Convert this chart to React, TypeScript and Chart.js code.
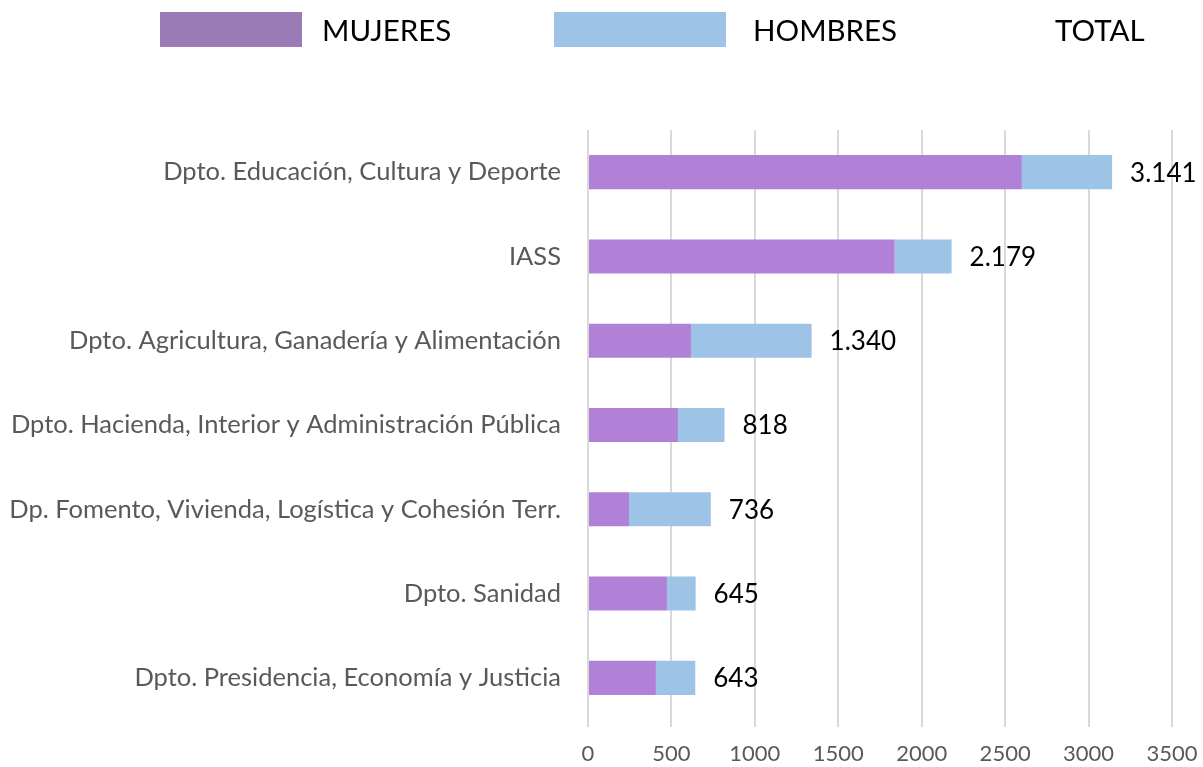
import React, { useEffect, useRef } from "react";
import { Chart, registerables } from "chart.js";

Chart.register(...registerables);

const categories = [
  "Dpto. Educación, Cultura y Deporte",
  "IASS",
  "Dpto. Agricultura, Ganadería y Alimentación",
  "Dpto. Hacienda, Interior y Administración Pública",
  "Dp. Fomento, Vivienda, Logística y Cohesión Terr.",
  "Dpto. Sanidad",
  "Dpto. Presidencia, Economía y Justicia",
];
const mujeres = [2600, 1838, 617, 539, 246, 473, 407];
const hombres = [541, 341, 723, 279, 490, 172, 236];
const totals = [3141, 2179, 1340, 818, 736, 645, 643];
const seriesLabels = ["MUJERES", "HOMBRES", "TOTAL"];
const xMin = 0;
const xMax = 3500;
const xStep = 500;

const FONT = "Lato, 'Open Sans', sans-serif";
const COLOR_MUJERES = "#b180d7";
const COLOR_HOMBRES = "#9dc3e6";
const LEGEND_MUJERES = "#9b7bb6";

const fmt = (v: number) => String(v).replace(/\B(?=(\d{3})+(?!\d))/g, ".");

const legendPlugin = {
  id: "customLegend",
  afterDraw(chart: any) {
    const ctx = chart.ctx;
    const items = [
      { box: [160, 142], color: LEGEND_MUJERES, textX: 322 },
      { box: [554, 172], color: COLOR_HOMBRES, textX: 753 },
      { box: null, color: null, textX: 1055 },
    ];
    ctx.save();
    ctx.font = `29.5px ${FONT}`;
    ctx.textBaseline = "middle";
    ctx.textAlign = "left";
    items.forEach((it, i) => {
      if (it.box) {
        ctx.fillStyle = it.color;
        ctx.fillRect(it.box[0], 12, it.box[1], 35);
      }
      ctx.fillStyle = "#000000";
      ctx.fillText(seriesLabels[i], it.textX, 31);
    });
    ctx.restore();
  },
};

const totalLabelPlugin = {
  id: "totalLabels",
  afterDatasetsDraw(chart: any) {
    const ctx = chart.ctx;
    const xs = chart.scales.x;
    const ys = chart.scales.y;
    ctx.save();
    ctx.font = `26px ${FONT}`;
    ctx.fillStyle = "#000000";
    ctx.textAlign = "left";
    ctx.textBaseline = "middle";
    totals.forEach((t, i) => {
      ctx.fillText(fmt(t), xs.getPixelForValue(t) + 18, ys.getPixelForValue(i) + 1);
    });
    ctx.restore();
  },
};

export default function App() {
  const ref = useRef<HTMLCanvasElement>(null);
  useEffect(() => {
    if (!ref.current) return;
    const chart = new Chart(ref.current, {
      type: "bar",
      data: {
        labels: categories,
        datasets: [
          {
            label: seriesLabels[0],
            data: mujeres,
            backgroundColor: COLOR_MUJERES,
            borderWidth: 0,
            categoryPercentage: 1,
            barPercentage: 0.404,
          },
          {
            label: seriesLabels[1],
            data: hombres,
            backgroundColor: COLOR_HOMBRES,
            borderWidth: 0,
            categoryPercentage: 1,
            barPercentage: 0.404,
          },
        ],
      },
      options: {
        indexAxis: "y",
        responsive: false,
        animation: false,
        devicePixelRatio: 1,
        layout: { padding: { top: 130, right: 31, left: 8, bottom: 0 } },
        plugins: {
          legend: { display: false },
          tooltip: { enabled: false },
        },
        scales: {
          x: {
            stacked: true,
            min: xMin,
            max: xMax,
            ticks: {
              stepSize: xStep,
              color: "#595959",
              font: { family: FONT, size: 22 },
              padding: 14,
              maxRotation: 0,
              callback: (v: any) => String(v),
            },
            grid: {
              color: "#d9d9d9",
              lineWidth: 2,
              drawTicks: true,
              tickLength: 7,
              tickColor: "#d9d9d9",
            },
            border: { display: false },
            afterFit: (s: any) => {
              s.height = 47;
              s.paddingLeft = 0;
              s.paddingRight = 0;
            },
          },
          y: {
            stacked: true,
            ticks: {
              color: "#595959",
              font: { family: FONT, size: 25.5 },
              padding: 27,
            },
            grid: { display: false, drawTicks: false },
            border: { display: false },
            afterFit: (s: any) => {
              s.width = 580;
              s.paddingTop = 0;
              s.paddingBottom = 0;
            },
          },
        },
      },
      plugins: [legendPlugin, totalLabelPlugin],
    } as any);
    return () => chart.destroy();
  }, []);
  return (
    <div style={{ position: "absolute", left: 0, top: 0, width: 1203, height: 767, background: "#fff" }}>
      <canvas ref={ref} width={1203} height={767} />
    </div>
  );
}
